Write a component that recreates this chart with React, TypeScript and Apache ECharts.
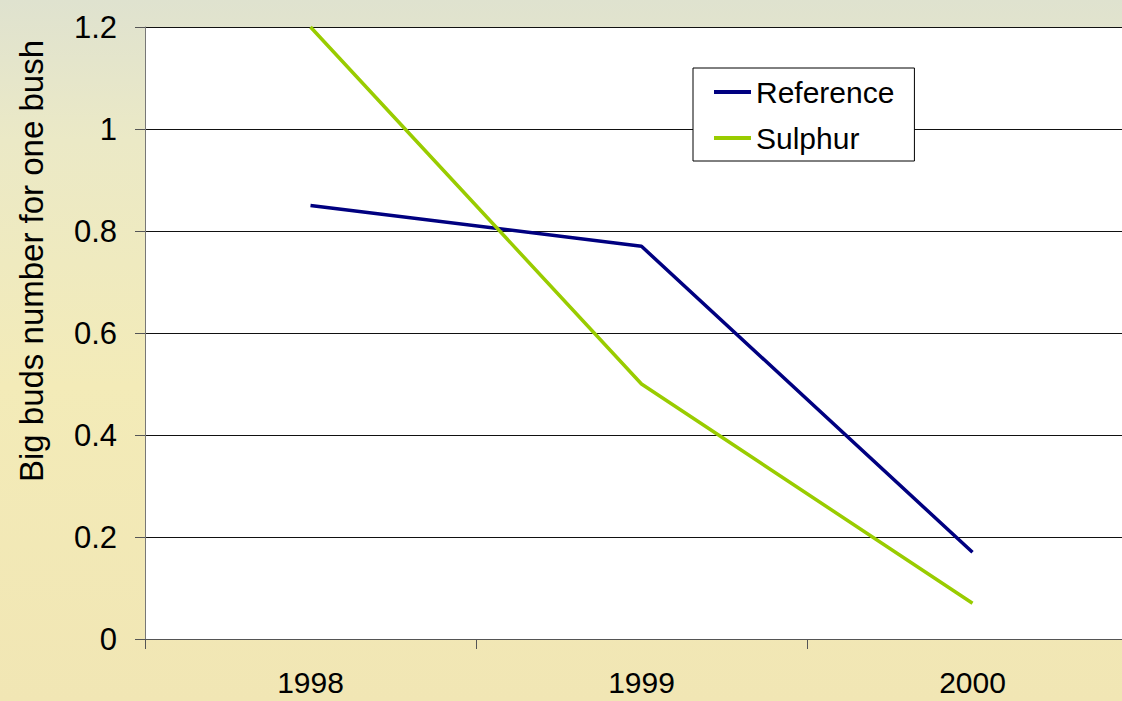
import React, { useEffect, useRef } from "react";
import * as echarts from "echarts";

const categories = ["1998", "1999", "2000"];
const referenceValues = [0.85, 0.77, 0.17];
const sulphurValues = [1.2, 0.5, 0.07];
const yTicks = [0, 0.2, 0.4, 0.6, 0.8, 1, 1.2];
const yAxisTitle = "Big buds number for one bush";

export default function App() {
  const ref = useRef<HTMLDivElement>(null);
  useEffect(() => {
    if (!ref.current) return;
    const chart = echarts.init(ref.current, undefined, { renderer: "svg" });
    const font = "'Liberation Sans', Arial, sans-serif";
    chart.setOption({
      animation: false,
      backgroundColor: "transparent",
      grid: {
        left: 145,
        top: 27,
        width: 993,
        height: 612,
        show: true,
        backgroundColor: "#ffffff",
        borderWidth: 0,
      },
      legend: {
        orient: "vertical",
        left: 693,
        top: 68,
        backgroundColor: "#ffffff",
        borderColor: "#000000",
        borderWidth: 1,
        padding: [9, 20, 8, 21],
        itemGap: 16,
        itemWidth: 37,
        itemHeight: 4,
        icon: "rect",
        textStyle: { fontFamily: font, fontSize: 30, color: "#000" },
        data: ["Reference", "Sulphur"],
      },
      xAxis: {
        type: "category",
        data: categories,
        boundaryGap: true,
        axisLine: { show: true, lineStyle: { color: "#555", width: 1 } },
        axisTick: { show: true, length: 10, inside: false, interval: 0, lineStyle: { color: "#555" } },
        axisLabel: { fontFamily: font, fontSize: 30, lineHeight: 24, color: "#000", margin: 31 },
        splitLine: { show: false },
      },
      yAxis: {
        type: "value",
        min: 0,
        max: 1.2,
        interval: 0.2,
        axisLine: { show: true, lineStyle: { color: "#777", width: 1 } },
        axisTick: { show: true, length: 10, inside: false, lineStyle: { color: "#555" } },
        axisLabel: {
          fontFamily: font,
          fontSize: 31,
          color: "#000",
          margin: 28,
          formatter: (v: number) => {
            const t = yTicks.find((x) => Math.abs(x - v) < 1e-9);
            return t === undefined ? "" : String(t);
          },
        },
        splitLine: { show: true, lineStyle: { color: "#111", width: 1 } },
      },
      graphic: [
        {
          type: "text",
          x: 31,
          y: 261,
          rotation: Math.PI / 2,
          style: {
            text: yAxisTitle,
            fontFamily: font,
            fontSize: 33,
            fill: "#000",
            textAlign: "center",
            textVerticalAlign: "middle",
          },
        },
      ],
      series: [
        {
          name: "Reference",
          type: "line",
          data: referenceValues,
          showSymbol: false,
          symbol: "none",
          itemStyle: { color: "#000080" },
          lineStyle: { color: "#000080", width: 3.5 },
        },
        {
          name: "Sulphur",
          type: "line",
          data: sulphurValues,
          showSymbol: false,
          symbol: "none",
          itemStyle: { color: "#99cc00" },
          lineStyle: { color: "#99cc00", width: 3.5 },
        },
      ],
    });
    return () => chart.dispose();
  }, []);
  return (
    <div
      style={{
        position: "fixed",
        left: 0,
        top: 0,
        width: 1122,
        height: 701,
        overflow: "hidden",
        background:
          "linear-gradient(180deg, #dfe2cf 0%, #ebe9c6 20%, #f3ebb8 55%, #f1e6b4 100%)",
      }}
    >
      <div ref={ref} style={{ width: 1138, height: 701 }} />
    </div>
  );
}
